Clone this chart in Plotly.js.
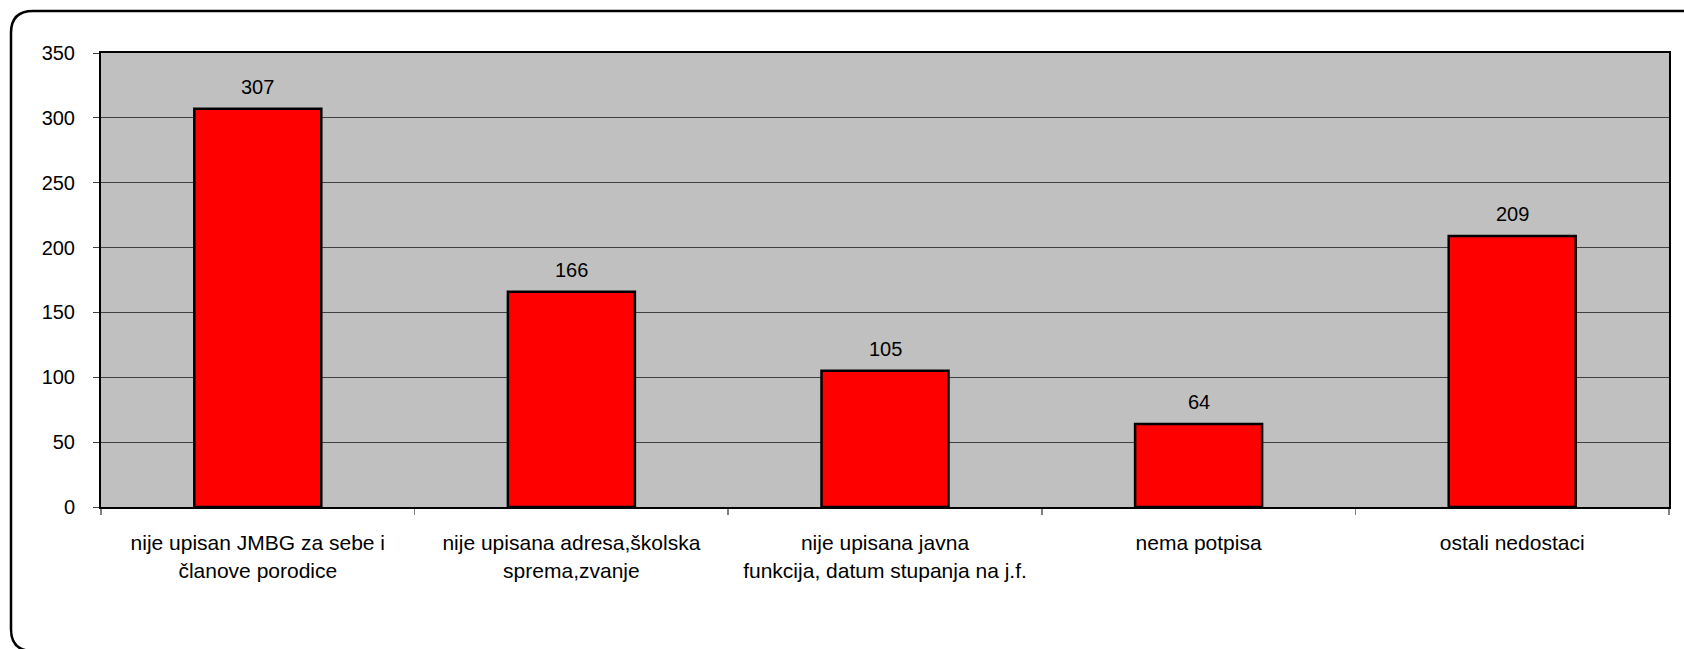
<!DOCTYPE html>
<html>
<head>
<meta charset="utf-8">
<script src="https://cdn.plot.ly/plotly-3.0.1.min.js"></script>
<style>html,body{margin:0;padding:0;background:#fff;}#chart{width:1684px;height:649px;}</style>
</head>
<body>
<div id="chart"></div>
<script>
const categories = [
  "nije upisan JMBG za sebe i<br>članove porodice",
  "nije upisana adresa,školska<br>sprema,zvanje",
  "nije upisana javna<br>funkcija, datum stupanja na j.f.",
  "nema potpisa",
  "ostali nedostaci"
];
const values = [307, 166, 105, 64, 209];
const yTicks = [0, 50, 100, 150, 200, 250, 300, 350];

const W = 1684, H = 649;
const m = {l: 101, r: 15, t: 53, b: 142};
const pw = W - m.l - m.r, ph = H - m.t - m.b;
function px(x){ return (x - m.l) / pw; }
function py(y){ return (H - m.b - y) / ph; }
const rad = 22;
const bx0 = 11, by0 = 11, bx1 = 1700, by1 = 651;
const border = [
  'M', px(bx1), py(by0),
  'L', px(bx0 + rad), py(by0),
  'Q', px(bx0), py(by0), px(bx0), py(by0 + rad),
  'L', px(bx0), py(by1 - rad),
  'Q', px(bx0), py(by1), px(bx0 + rad), py(by1),
  'L', px(bx1), py(by1)
].join(' ');

const font = {family: '"Liberation Sans", Arial, sans-serif', size: 20, color: '#000'};
const catFont = {family: '"Liberation Sans", Arial, sans-serif', size: 21, color: '#000'};

const trace = {
  type: 'bar',
  x: categories,
  y: values,
  width: 0.405,
  marker: {color: '#FF0000', line: {color: '#000', width: 2.5}},
  hoverinfo: 'none'
};

const annotations = values.map((v, i) => ({
  x: categories[i], y: v, xref: 'x', yref: 'y',
  text: String(v), showarrow: false,
  yanchor: 'bottom', yshift: 9,
  font: font
}));

const layout = {
  width: W, height: H,
  margin: m,
  paper_bgcolor: '#fff',
  plot_bgcolor: '#C0C0C0',
  font: font,
  showlegend: false,
  bargap: 0.595,
  xaxis: {
    type: 'category',
    tickson: 'boundaries',
    ticks: 'outside', ticklen: 6, tickwidth: 1.5, tickcolor: '#808080',
    showgrid: false, zeroline: false,
    showline: true, linecolor: '#000', linewidth: 2, mirror: true,
    ticklabelstandoff: 16,
    tickfont: catFont,
    fixedrange: true
  },
  yaxis: {
    range: [0, 350],
    tickvals: yTicks,
    ticktext: yTicks.map(String),
    ticks: 'outside', ticklen: 6, tickwidth: 1, tickcolor: '#404040',
    showgrid: true, gridcolor: '#404040', gridwidth: 1,
    zeroline: false,
    showline: true, linecolor: '#000', linewidth: 2, mirror: true,
    ticklabelstandoff: 14,
    tickfont: font,
    fixedrange: true
  },
  shapes: [{
    type: 'path', xref: 'paper', yref: 'paper',
    path: border, line: {color: '#000', width: 2.5}, layer: 'above'
  }],
  annotations: annotations
};

Plotly.newPlot('chart', [trace], layout, {displayModeBar: false, staticPlot: true});
</script>
</body>
</html>
